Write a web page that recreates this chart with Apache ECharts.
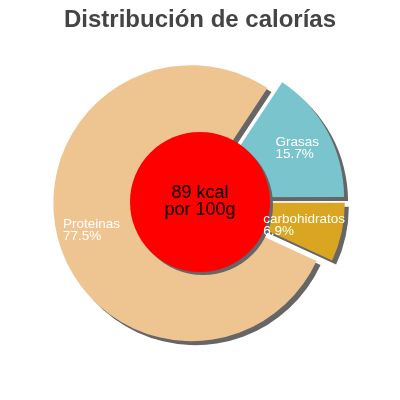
<!DOCTYPE html>
<html>
<head>
<meta charset="utf-8">
<script src="https://cdn.jsdelivr.net/npm/echarts@6/dist/echarts.min.js"></script>
<style>
html,body{margin:0;padding:0;background:#fff;}
#chart{width:400px;height:400px;}
</style>
</head>
<body>
<div id="chart"></div>
<script>
const titleText = 'Distribución de calorías';
const categories = ['Grasas', 'carbohidratos', 'Proteinas'];
const values = [15.7, 6.9, 77.5];
const colors = ['#7AC5CD', '#DAA520', '#EEC591'];
const kcal = 89;
const centerLines = [kcal + ' kcal', 'por 100g'];
// label nudges (style only)
const labelShift = [[51, -15], [31, 7], [-14, 7]];

const chart = echarts.init(document.getElementById('chart'), null, {renderer: 'canvas'});
const shadow = {shadowColor: '#666666', shadowBlur: 0, shadowOffsetX: 4, shadowOffsetY: 4};
const font = 'Liberation Sans, Arial';

const pieBase = {
  type: 'pie',
  center: [199, 201],
  radius: [0, 138],
  startAngle: 56.5,
  clockwise: true,
  selectedMode: 'multiple',
  selectedOffset: 8,
  silent: true,
  labelLine: {show: false}
};

chart.setOption({
  animation: false,
  title: {
    text: titleText,
    left: 'center',
    top: 3,
    textStyle: {fontFamily: font, fontSize: 24, fontWeight: 'bold', color: '#444444'}
  },
  series: [
    Object.assign({}, pieBase, {
      z: 2,
      data: categories.map((c, i) => ({
        name: c, value: values[i], selected: true,
        itemStyle: Object.assign({color: colors[i]}, shadow)
      })),
      label: {show: false}
    }),
    {
      type: 'pie',
      center: [200, 202],
      radius: [0, 70],
      silent: true,
      z: 3,
      data: [{name: 'kcal', value: kcal, itemStyle: {color: '#FF0000', shadowColor: '#666666', shadowBlur: 0, shadowOffsetX: 3, shadowOffsetY: 3}}],
      label: {
        show: true,
        position: 'center',
        formatter: centerLines.join('\n'),
        color: '#000000',
        fontFamily: font,
        fontSize: 18,
        lineHeight: 17
      },
      labelLine: {show: false}
    },
    Object.assign({}, pieBase, {
      z: 4,
      data: categories.map((c, i) => ({
        name: c, value: values[i], selected: true,
        itemStyle: {color: 'rgba(0,0,0,0)'}
      })),
      label: {
        show: true,
        position: 'inside',
        formatter: '{t|{b}}\n{t|{c}%}',
        color: '#ffffff',
        fontFamily: font,
        fontSize: 13.5,
        lineHeight: 12,
        rich: {t: {width: 90, align: 'left', color: '#ffffff', fontFamily: font, fontSize: 13.5, lineHeight: 12}}
      },
      labelLayout: function (p) {
        const s = labelShift[p.dataIndex];
        return {dx: s[0], dy: s[1], hideOverlap: false};
      }
    })
  ]
});
</script>
</body>
</html>
